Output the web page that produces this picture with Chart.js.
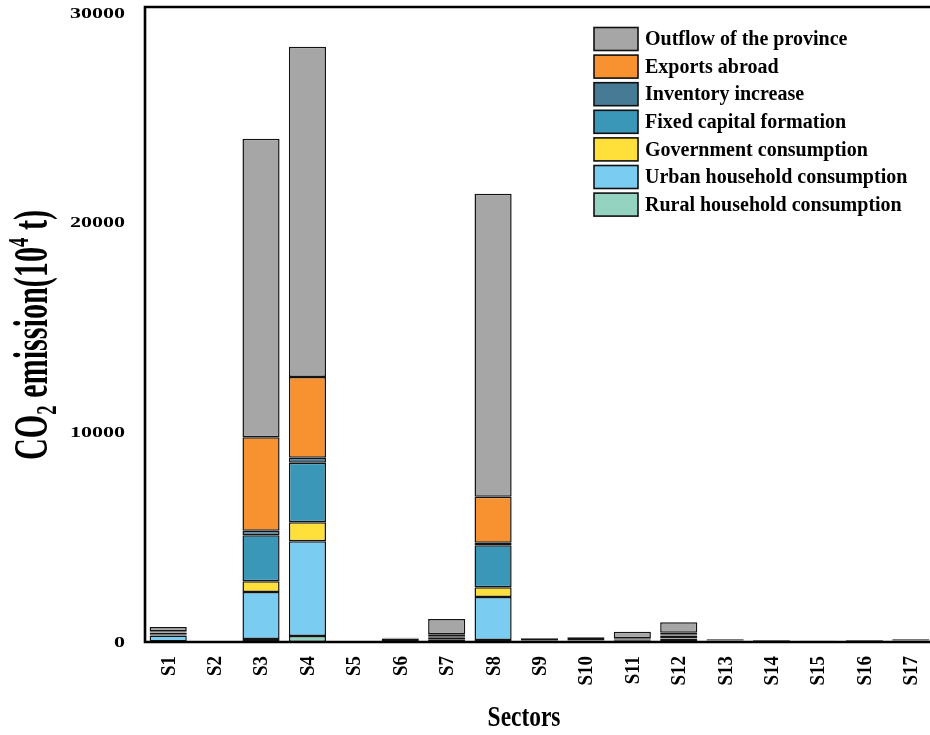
<!DOCTYPE html>
<html>
<head>
<meta charset="utf-8">
<script src="https://cdn.jsdelivr.net/npm/chart.js@4.4.1/dist/chart.umd.min.js"></script>
<style>
html,body{margin:0;padding:0;background:#fff;overflow:hidden;width:930px;height:735px;}
#wrap{width:940px;height:735px;}
</style>
</head>
<body>
<div id="wrap"><canvas id="c" width="940" height="735"></canvas></div>
<script>
// ---- data ----
const sectors = ['S1','S2','S3','S4','S5','S6','S7','S8','S9','S10','S11','S12','S13','S14','S15','S16','S17'];
const rural        = [20, 0, 143, 286, 0, 5, 10, 95, 5, 5, 10, 15, 5, 3, 2, 3, 5];
const urban        = [290, 0, 2243, 4520, 0, 20, 80, 2053, 10, 15, 30, 140, 15, 10, 8, 10, 15];
const government   = [40, 0, 511, 907, 0, 5, 40, 463, 5, 5, 20, 20, 10, 5, 4, 5, 10];
const fixedCapital = [90, 0, 2196, 2845, 0, 130, 100, 2005, 20, 25, 60, 140, 30, 15, 10, 15, 30];
const inventory    = [30, 0, 220, 239, 0, 20, 40, 124, 10, 10, 20, 50, 15, 8, 6, 8, 15];
const exportsAbroad= [40, 0, 4458, 3852, 0, 10, 100, 2196, 20, 20, 35, 80, 15, 10, 10, 10, 15];
const outflow      = [200, 0, 14239, 15752, 0, 15, 730, 14449, 110, 145, 320, 500, 40, 30, 22, 30, 40];
const yTicks = [0, 10000, 20000, 30000];
const yMax = 30300;

const seriesNames = ['Rural household consumption','Urban household consumption','Government consumption','Fixed capital formation','Inventory increase','Exports abroad','Outflow of the province'];
const seriesColors = ['#93D3BF','#7ACDF0','#FFE03A','#3A97B7','#467A95','#F89230','#A6A6A6'];
const seriesData = [rural, urban, government, fixedCapital, inventory, exportsAbroad, outflow];

const datasets = seriesData.map((d, i) => ({
  label: seriesNames[i],
  data: d,
  backgroundColor: seriesColors[i],
  borderColor: '#141414',
  borderWidth: 1.5,
  borderSkipped: false,
  categoryPercentage: 0.8,
  barPercentage: 1.0
}));

const serif = '"Liberation Serif", "Times New Roman", serif';

const custom = {
  id: 'custom',
  afterDraw(chart) {
    const ctx = chart.ctx;
    const a = chart.chartArea;
    const xs = chart.scales.x, ys = chart.scales.y;
    ctx.save();
    // frame
    ctx.strokeStyle = '#000';
    ctx.lineWidth = 2.6;
    ctx.beginPath();
    ctx.moveTo(a.right, a.top);
    ctx.lineTo(a.left, a.top);
    ctx.lineTo(a.left, a.bottom);
    ctx.lineTo(a.right, a.bottom);
    ctx.lineTo(a.right, a.top);
    ctx.stroke();

    // y tick labels
    ctx.fillStyle = '#000';
    ctx.font = 'bold 14px ' + serif;
    ys.ticks.forEach(t => {
      const txt = String(t.value);
      const y = ys.getPixelForValue(t.value);
      const w = ctx.measureText('30000').width;
      const sx = 55 / w;
      ctx.save();
      ctx.translate(125, y);
      ctx.scale(sx, 1);
      ctx.textAlign = 'right';
      ctx.textBaseline = 'middle';
      ctx.fillText(txt, 0, 1);
      ctx.restore();
    });

    // x tick labels
    ctx.font = 'bold 21px ' + serif;
    xs.ticks.forEach((t, i) => {
      const x = xs.getPixelForTick(i);
      ctx.save();
      ctx.translate(x, 656);
      ctx.rotate(-Math.PI / 2);
      ctx.scale(0.9, 1);
      ctx.textAlign = 'right';
      ctx.textBaseline = 'middle';
      ctx.fillText(sectors[i], 0, 1);
      ctx.restore();
    });

    // x title
    ctx.save();
    ctx.font = 'bold 30px ' + serif;
    ctx.translate(524, 726);
    ctx.scale(0.78, 1);
    ctx.textAlign = 'center';
    ctx.textBaseline = 'alphabetic';
    ctx.fillText('Sectors', 0, 0);
    ctx.restore();

    // y title with sub/superscripts
    const parts = [
      {t: 'CO', f: 48, dy: 0},
      {t: '2', f: 30, dy: 9},
      {t: ' emission(10', f: 48, dy: 0},
      {t: '4', f: 30, dy: -19},
      {t: ' t)', f: 48, dy: 0}
    ];
    let W = 0;
    parts.forEach(p => { ctx.font = 'bold ' + p.f + 'px ' + serif; p.w = ctx.measureText(p.t).width; W += p.w; });
    ctx.save();
    ctx.translate(47, 335);
    ctx.rotate(-Math.PI / 2);
    ctx.scale(250 / W, 1);
    ctx.textAlign = 'left';
    ctx.textBaseline = 'alphabetic';
    let cx = -W / 2;
    parts.forEach(p => {
      ctx.font = 'bold ' + p.f + 'px ' + serif;
      ctx.fillText(p.t, cx, p.dy);
      cx += p.w;
    });
    ctx.restore();

    // legend (reverse order)
    const ds = chart.data.datasets.slice().reverse();
    ctx.font = 'bold 20px ' + serif;
    ds.forEach((d, i) => {
      const top = 27.5 + i * 27.6;
      ctx.fillStyle = d.backgroundColor;
      ctx.fillRect(594, top, 44, 23);
      ctx.strokeStyle = '#111';
      ctx.lineWidth = 1.6;
      ctx.strokeRect(594, top, 44, 23);
      ctx.fillStyle = '#000';
      ctx.textAlign = 'left';
      ctx.textBaseline = 'middle';
      ctx.fillText(d.label, 645, top + 12.5);
    });
    ctx.restore();
  }
};

new Chart(document.getElementById('c'), {
  type: 'bar',
  data: { labels: sectors, datasets },
  options: {
    responsive: false,
    animation: false,
    devicePixelRatio: 1,
    layout: { padding: { top: 7, right: 6, left: 0, bottom: 0 } },
    plugins: { legend: { display: false }, tooltip: { enabled: false } },
    scales: {
      x: {
        stacked: true,
        grid: { display: false },
        border: { display: false },
        ticks: { display: false },
        afterFit(s) { s.height = 93; }
      },
      y: {
        stacked: true,
        min: 0,
        max: yMax,
        grid: { display: false },
        border: { display: false },
        ticks: { display: false },
        afterBuildTicks(s) { s.ticks = yTicks.map(v => ({ value: v })); },
        afterFit(s) { s.width = 145; }
      }
    }
  },
  plugins: [custom]
});
</script>
</body>
</html>
